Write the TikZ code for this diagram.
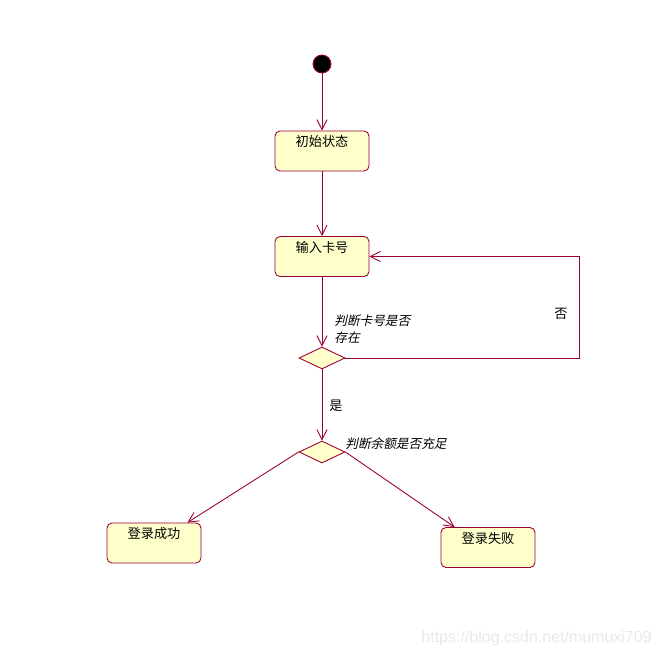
\documentclass[tikz,border=0pt]{standalone}
\usepackage{fontspec}
\setmainfont{Noto Sans CJK SC}
\newfontfamily\slantcjk[FakeSlant=0.22]{Noto Sans CJK SC}
\newfontfamily\wmfont{Liberation Sans}
\usetikzlibrary{shapes.geometric,arrows.meta}
\definecolor{rosered}{HTML}{990033}
\definecolor{roseyellow}{HTML}{FFFFCC}
\tikzset{
  state/.style={
    draw = rosered,
    fill = roseyellow,
    line width = 0.5pt,
    rounded corners = 0.1cm,
    minimum width = 1.88cm,
    inner ysep = 0.06cm,
    text height = 0.26cm,
    text depth = 0.42cm
  },
  choice/.style={
    draw = rosered,
    fill = roseyellow,
    line width = 0.5pt,
    shape = diamond,
    inner sep = 0pt,
    minimum width = 0.92cm,
    minimum height = 0.44cm
  },
  flow/.style={
    draw = rosered,
    line width = 0.5pt,
    -{Straight Barb[length=0.2cm,width=0.2cm]}
  },
  guard/.style={
    font = \slantcjk\fontsize{7.2}{9.2}\selectfont,
    align = left,
    inner sep = 0pt
  },
  every picture/.style = {
    font = \fontsize{7.5}{9}\selectfont
  }
}
\begin{document}
\begin{tikzpicture}[x=0.02cm,y=-0.02cm]
            \useasboundingbox (0,0) rectangle (660,658);
            \node[circle, draw=rosered, fill=black, line width=0.5pt, minimum size=0.36cm, inner sep=0pt] (start) at (322,64) {};
            \node[state] (init) at (322,151) {初始状态};
            \node[state] (card) at (322,256.5) {输入卡号};
            \node[choice] (c1) at (322,358) {};
            \node[choice] (c2) at (322,452) {};
            \node[state] (ok) at (154,543) {登录成功};
            \node[state] (fail) at (488,547.5) {登录失败};
            \coordinate (back) at (579,358);
            \draw[flow] (start)--(init);
            \draw[flow] (init)--(card);
            \draw[flow] (card)--(c1);
            \draw[flow] (c1.east)--(back)|-(card.east);
            \draw[flow] (c1)--(c2);
            \draw[flow] (c2.west)--([xshift=-0.28cm]ok.north east);
            \draw[flow] (c2.east)--([xshift=0.28cm]fail.north west);
            \node[guard, anchor=north west] (g1) at (334,315) {判断卡号是否\\存在};
            \node[guard, anchor=west] (g2) at (345,444) {判断余额是否充足};
            \node[inner sep=0pt] (no) at (561,314) {否};
            \node[inner sep=0pt] (yes) at (336,406) {是};
            \node[font=\wmfont\fontsize{9.1}{10}\selectfont, text=black!9, anchor=east, inner sep=0pt] (wm) at (652,638) {https://blog.csdn.net/mumuxi709};
        \end{tikzpicture}
\end{document}
